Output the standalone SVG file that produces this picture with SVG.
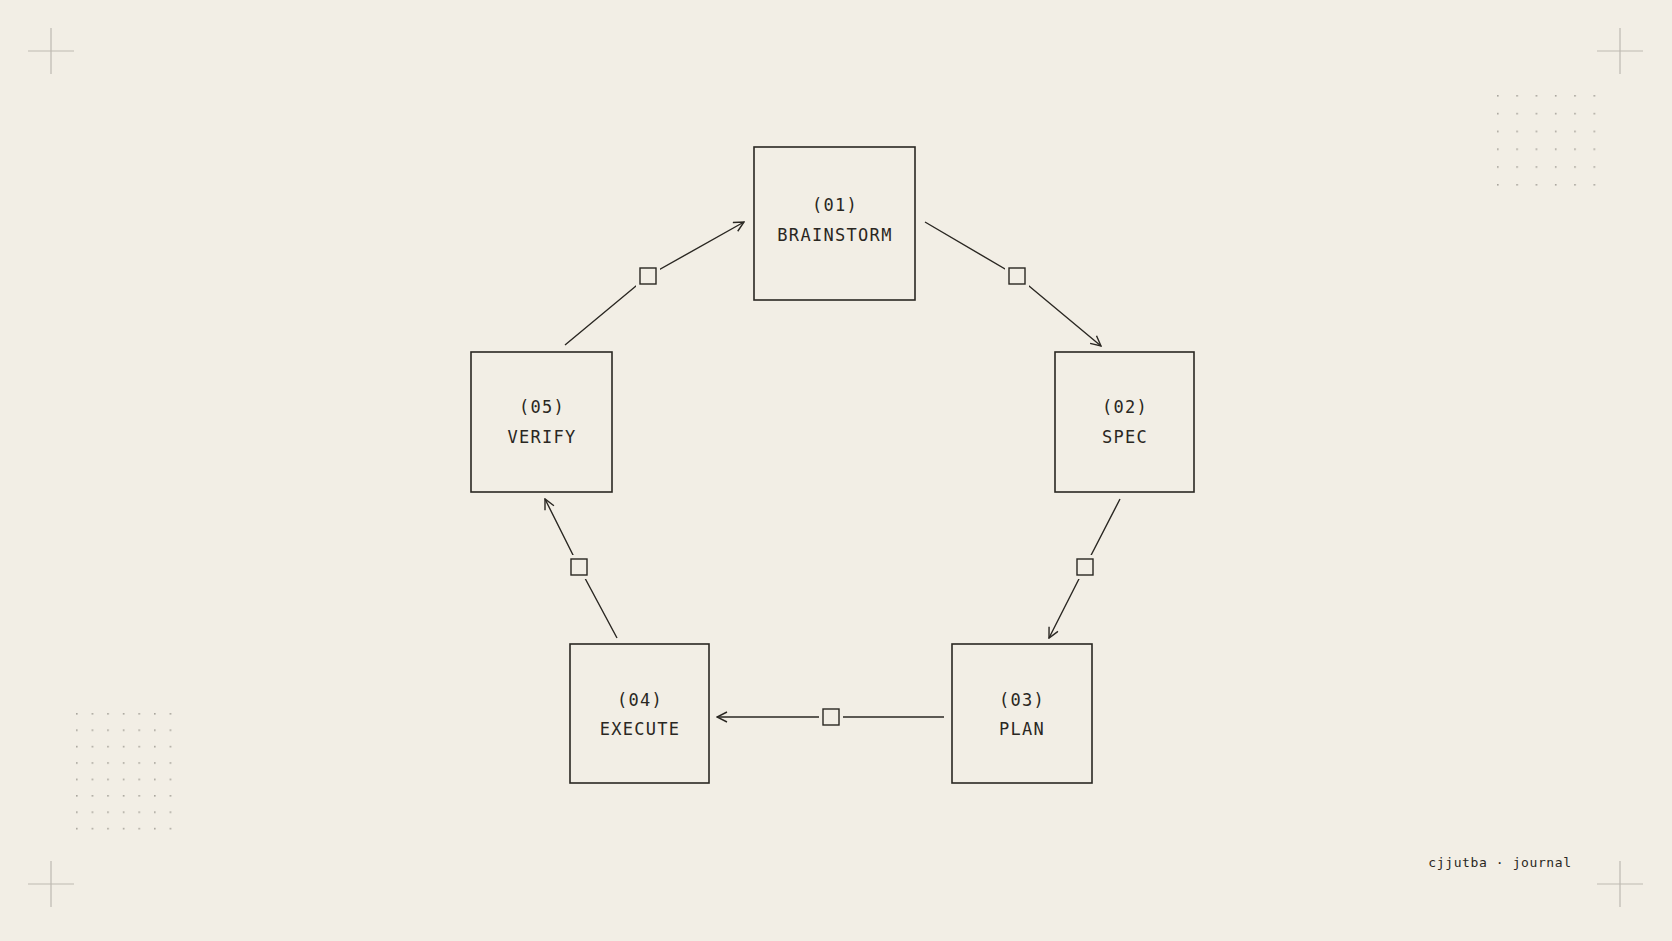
<svg xmlns="http://www.w3.org/2000/svg" width="1672" height="941" viewBox="0 0 1672 941">
<defs>
<style>
.n{fill:none;stroke:#2a2722;stroke-width:1.6}
.t{font-family:"DejaVu Sans Mono","Liberation Mono",monospace;font-size:17px;fill:#2a2722;text-anchor:middle;letter-spacing:1.3px}
.c{stroke:#2a2722;stroke-width:1.4;fill:none}
.s{fill:#f2eee5;stroke:#2a2722;stroke-width:1.4}
.g{fill:#f2eee5;stroke:none}
.x{stroke:#bdb9b1;stroke-width:1.2}
.d{fill:#a8a49c}
</style>
<marker id="a" viewBox="0 0 12 12" refX="11" refY="6" markerWidth="12" markerHeight="12" markerUnits="userSpaceOnUse" orient="auto"><path d="M1,1 L11,6 L1,11" fill="none" stroke="#2a2722" stroke-width="1.4"/></marker>
<pattern id="dt" x="1497" y="95" width="19.3" height="17.8" patternUnits="userSpaceOnUse"><rect width="1.6" height="1.6" class="d"/></pattern>
<pattern id="db" x="76" y="713" width="15.6" height="16.4" patternUnits="userSpaceOnUse"><rect width="1.6" height="1.6" class="d"/></pattern>
</defs>
<rect width="1672" height="941" fill="#f2eee5"/>
<g id="decor">
<path class="x" d="M28,51H74M51,28V74M1597,51H1643M1620,28V74M28,884H74M51,861V907M1597,884H1643M1620,861V907"/>
<rect x="1497" y="95" width="100" height="93" fill="url(#dt)"/>
<rect x="76" y="713" width="100" height="118" fill="url(#db)"/>
<text x="1500" y="867" style="font-family:'DejaVu Sans Mono',monospace;font-size:13px;fill:#2a2722;text-anchor:middle;letter-spacing:0.6px">cjjutba · journal</text>
</g>
<g id="connectors">
<polyline class="c" points="925,222 1017,276 1101,346" marker-end="url(#a)"/>
<polyline class="c" points="1120,499 1085,567 1049,638" marker-end="url(#a)"/>
<polyline class="c" points="944,717 831,717 717,717" marker-end="url(#a)"/>
<polyline class="c" points="617,638 579,567 545,499" marker-end="url(#a)"/>
<polyline class="c" points="565,345 648,276 744,222" marker-end="url(#a)"/>
<rect class="g" x="1005" y="264" width="24" height="24"/><rect class="s" x="1009" y="268" width="16" height="16"/>
<rect class="g" x="1073" y="555" width="24" height="24"/><rect class="s" x="1077" y="559" width="16" height="16"/>
<rect class="g" x="819" y="705" width="24" height="24"/><rect class="s" x="823" y="709" width="16" height="16"/>
<rect class="g" x="567" y="555" width="24" height="24"/><rect class="s" x="571" y="559" width="16" height="16"/>
<rect class="g" x="636" y="264" width="24" height="24"/><rect class="s" x="640" y="268" width="16" height="16"/>
</g>
<g id="n1"><rect class="n" x="754" y="147" width="161" height="153"/><text class="t" x="835" y="211">(01)</text><text class="t" x="835" y="241">BRAINSTORM</text></g>
<g id="n2"><rect class="n" x="1055" y="352" width="139" height="140"/><text class="t" x="1125" y="413">(02)</text><text class="t" x="1125" y="443">SPEC</text></g>
<g id="n3"><rect class="n" x="952" y="644" width="140" height="139"/><text class="t" x="1022" y="706">(03)</text><text class="t" x="1022" y="735">PLAN</text></g>
<g id="n4"><rect class="n" x="570" y="644" width="139" height="139"/><text class="t" x="640" y="706">(04)</text><text class="t" x="640" y="735">EXECUTE</text></g>
<g id="n5"><rect class="n" x="471" y="352" width="141" height="140"/><text class="t" x="542" y="413">(05)</text><text class="t" x="542" y="443">VERIFY</text></g>
</svg>
